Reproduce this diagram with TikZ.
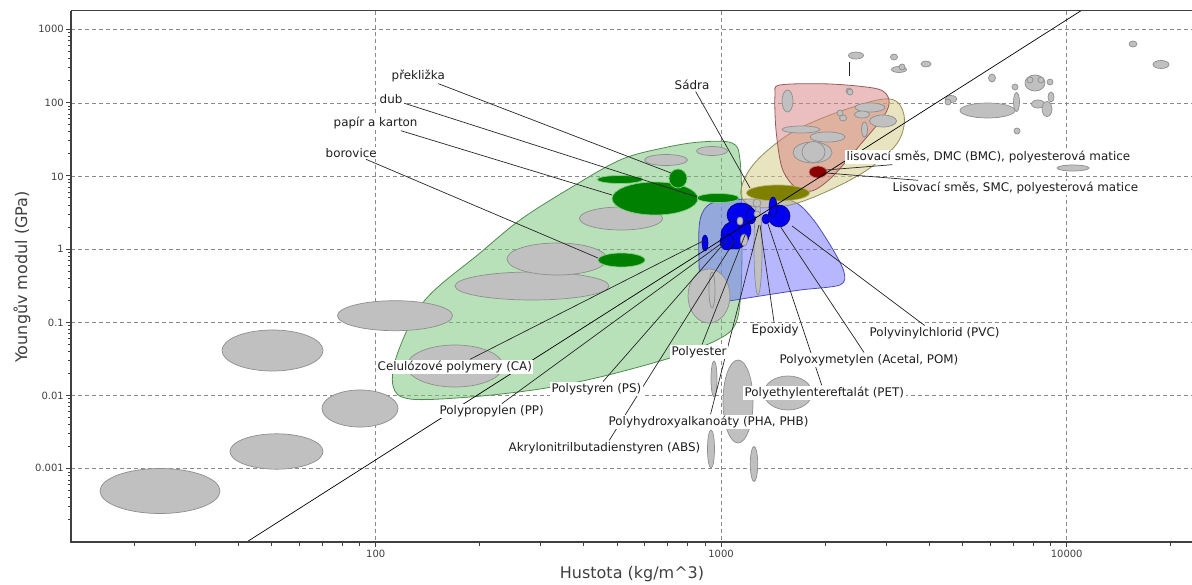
\documentclass[tikz,border=0pt]{standalone}
\usepackage{fontspec}
\setmainfont{DejaVu Sans}
\pgfdeclarelayer{fg}
\pgfsetlayers{main,fg}
\definecolor{axisc}{HTML}{404040}
\definecolor{gridc}{HTML}{8A8A8A}
\definecolor{ellfill}{HTML}{C0C0C0}
\definecolor{elldraw}{HTML}{8E8E8E}
\definecolor{woodc}{HTML}{008000}
\definecolor{woodedge}{HTML}{7FD07F}
\definecolor{polyc}{HTML}{0000EE}
\definecolor{polyedge}{HTML}{00007A}
\definecolor{gypsumc}{HTML}{808000}
\definecolor{smcc}{HTML}{8B0000}
\definecolor{envgreen}{HTML}{74C474}
\definecolor{envblue}{HTML}{7070FF}
\definecolor{envyellow}{HTML}{D0CA80}
\definecolor{envpink}{HTML}{D88080}
\definecolor{txtc}{HTML}{1E1E1E}
\tikzset{
  gridline/.style={gridc, line width=0.7pt, dash pattern=on 4pt off 3pt},
  axisline/.style={axisc, line width=1.1pt},
  tickline/.style={axisc, line width=0.8pt},
  ticklabel/.style={font=\fontsize{10}{12}\selectfont, text=axisc, inner sep=1pt},
  axistitle/.style={font=\fontsize{16}{18}\selectfont, text=axisc},
  grayell/.style={fill=ellfill, draw=elldraw, line width=0.7pt},
  woodell/.style={fill=woodc, draw=woodedge, line width=0.7pt},
  polyell/.style={fill=polyc, draw=polyedge, line width=0.6pt},
  envelope/.style={fill opacity=0.5, line width=0.8pt},
  conn/.style={black!85, line width=0.7pt},
  lbl/.style={fill=white, text=txtc, inner sep=1.5pt, font=\fontsize{11.9}{13}\selectfont},
}
\begin{document}
\begin{tikzpicture}[x=1pt, y=-1pt]
\useasboundingbox (0,0) rectangle (1192,585);
\fill[white] (0,0) rectangle (1192,585);

% grid
\foreach \gy in {29.3,103.3,176.7,249,322.7,395.7,468.3}
  \draw[gridline] (71,\gy) -- (1192,\gy);
\foreach \gx in {375.7,721,1066.7}
  \draw[gridline] (\gx,10.7) -- (\gx,542);

% envelopes
\draw[envelope, fill=envgreen, draw=envgreen!70!black]
  plot[smooth cycle, tension=0.55] coordinates {
  (700,142) (732,143) (740,160) (742,220) (741,290) (735,325) (715,341)
  (670,358) (600,377) (540,389) (470,397) (410,399) (393,386) (398,352)
  (425,300) (480,253) (520,220) (567,190) (620,160) (663,148)};
\draw[envelope, fill=envblue, draw=envblue!70!black]
  plot[smooth cycle, tension=0.5] coordinates {
  (712,203) (750,199) (792,201) (812,218) (832,248) (844,272) (840,285)
  (800,290) (760,296) (720,302) (702,300) (699,260) (700,220)};
\draw[envelope, fill=envyellow, draw=envyellow!70!black]
  plot[smooth cycle, tension=0.6] coordinates {
  (741,195) (748,172) (768,150) (800,128) (850,108) (890,99) (904,115)
  (898,142) (870,168) (830,190) (790,205) (755,207)};
\draw[envelope, fill=envpink, draw=envpink!70!black]
  plot[smooth cycle, tension=0.5] coordinates {
  (780,85) (830,84) (878,89) (889,100) (884,116) (860,145) (832,177)
  (812,191) (795,187) (782,168) (776,130) (775,95)};

% grey material bubbles
\foreach \cx/\cy/\rx/\ry in {
  160/491/60/22.5, 276.5/451.5/46.5/17.7, 272.5/350.5/50.5/20.5,
  360/408.5/38/18.5, 395/315.7/57.5/15, 455/366/48/21, 532/286/77/14,
  557/259/50/16, 621/218.5/41.5/11.5, 666/160/21.5/5.5, 712/151/15.5/4.5,
  709/296/21/27, 712/290/3/18, 714/379/3/18, 738/401.5/15/41.5,
  788/393/24/17, 711/449/3.5/19, 754/464/3.7/17.5, 758/248/4/47,
  757/203/4/4,
  856/55.5/7.5/3.5, 849/91/3/3, 894/57/3.5/3, 899/69.5/7.5/3, 902/67/3/3,
  926/64/5/3, 992/78/3.5/4, 1035/83/10/8, 1030/80/3/3, 1041/80/3/3,
  1050/82/3/3, 1015/87/3/3, 1016.5/102/3/9.5, 1051/97/3/5, 1038/104/6.5/4,
  1047/109/5/7.5, 987.5/110.5/27.5/7.5, 951/99/6/3.5, 948/102/3/3,
  1017/131/3/3, 1133/44/4/3, 1161/64.5/8/4, 1073/168/16/3,
  787.5/101/5.5/11, 850/92/3/3, 870/107.5/15/4.5, 883/121/13.5/6,
  862/114.5/7.5/3.5, 840/113/3/3, 843/118/3.5/3, 864.5/129.5/3/7.5,
  801/129.5/19/3.5, 827.5/137/17.5/5, 812.5/152.5/19.5/10.5,
  813.5/152/11.5/10.5}
  \draw[grayell] (\cx,\cy) ellipse [x radius=\rx, y radius=\ry];

% woods
\draw[woodell] (620,179.5) ellipse [x radius=23, y radius=4];
\draw[woodell] (655,198.5) ellipse [x radius=43, y radius=16.5];
\draw[woodell] (678,178.5) ellipse [x radius=9, y radius=9.5];
\draw[woodell] (718,198) ellipse [x radius=21, y radius=4.5];
\draw[woodell] (621.5,260) ellipse [x radius=23.5, y radius=7];

% gypsum and moulding compounds
\draw[fill=gypsumc, draw=gypsumc!60!white, line width=0.7pt] (778,193) ellipse [x radius=31.5, y radius=8];
\draw[fill=smcc, draw=smcc!50!white, line width=0.7pt] (818,172) ellipse [x radius=9, y radius=6];

% polymers
\foreach \cx/\cy/\rx/\ry in {
  741/215/14/12, 735/235/14/14, 727/242/7/8, 779/216/11/11, 773/207/4/10,
  751/216/5/8, 766/219/4/5, 705/243/3/8, 745/230/6/9}
  \draw[polyell] (\cx,\cy) ellipse [x radius=\rx, y radius=\ry];
\foreach \cx/\cy/\rx/\ry in {740/221/3/4, 744/240/3.5/6, 757/214/3/3}
  \draw[grayell] (\cx,\cy) ellipse [x radius=\rx, y radius=\ry];

% E/rho guide line
\coordinate (diagA) at (246.7,542);
\coordinate (diagB) at (1081,10.7);
\draw[black, line width=0.7pt] (diagA) -- (diagB);

% axes
\draw[axisline] (71,10.7) -- (1192,10.7);
\draw[axisline] (71,10.7) -- (71,542) -- (1192,542);
\foreach \k in {-3,...,3}
  \draw[tickline] (66,{249-73.2*\k}) -- (71,{249-73.2*\k});
\foreach \k in {-4,...,2}
  \foreach \m in {2,...,9}
    \draw[tickline] (68,{249-73.2*(\k+log10(\m))}) -- (71,{249-73.2*(\k+log10(\m))});
\foreach \k in {2,3,4}
  \draw[tickline] ({30.2+345.5*(\k-1)},542) -- ({30.2+345.5*(\k-1)},547);
\foreach \k in {1,2,3}
  \foreach \m in {2,...,9}
    \draw[tickline] ({30.2+345.5*(\k-1+log10(\m))},542) -- ({30.2+345.5*(\k-1+log10(\m))},546);
\draw[tickline] ({30.2+345.5*(3+log10(2))},542) -- ({30.2+345.5*(3+log10(2))},546);

\node[ticklabel, anchor=east] (yt3) at (65,29.3) {1000};
\node[ticklabel, anchor=east] (yt2) at (65,103.3) {100};
\node[ticklabel, anchor=east] (yt1) at (65,176.7) {10};
\node[ticklabel, anchor=east] (yt0) at (65,249) {1};
\node[ticklabel, anchor=east] (ytm1) at (65,322.7) {0.1};
\node[ticklabel, anchor=east] (ytm2) at (65,395.7) {0.01};
\node[ticklabel, anchor=east] (ytm3) at (65,468.3) {0.001};
\node[ticklabel, anchor=north] (xt2) at (375.7,549) {100};
\node[ticklabel, anchor=north] (xt3) at (721,549) {1000};
\node[ticklabel, anchor=north] (xt4) at (1066.7,549) {10000};
\node[axistitle] (xtitle) at (632,574) {Hustota (kg/m\textasciicircum3)};
\node[axistitle, rotate=90] (ytitle) at (22,277) {Youngův modul (GPa)};

% labels
\begin{pgfonlayer}{fg}
\node[lbl, anchor=west] (lPrek) at (390,76) {překližka};
\node[lbl, anchor=west] (lDub) at (378,99) {dub};
\node[lbl, anchor=west] (lPapir) at (332,123) {papír a karton};
\node[lbl, anchor=west] (lBor) at (324,153) {borovice};
\node[lbl, anchor=west] (lSadra) at (673,85) {Sádra};
\node[lbl, anchor=west] (lDMC) at (845,157) {lisovací směs, DMC (BMC), polyesterová matice};
\node[lbl, anchor=west] (lSMC) at (891,188) {Lisovací směs, SMC, polyesterová matice};
\node[lbl, anchor=west] (lCA) at (376,367) {Celulózové polymery (CA)};
\node[lbl, anchor=west] (lPP) at (438,411) {Polypropylen (PP)};
\node[lbl, anchor=west] (lPS) at (550,389) {Polystyren (PS)};
\node[lbl, anchor=west] (lPes) at (670,352) {Polyester};
\node[lbl, anchor=west] (lEp) at (750,330) {Epoxidy};
\node[lbl, anchor=west] (lPVC) at (868,333) {Polyvinylchlorid (PVC)};
\node[lbl, anchor=west] (lPOM) at (778,360) {Polyoxymetylen (Acetal, POM)};
\node[lbl, anchor=west] (lPET) at (743,393) {Polyethylentereftalát (PET)};
\node[lbl, anchor=west] (lPHA) at (607,422) {Polyhydroxyalkanoáty (PHA, PHB)};
\node[lbl, anchor=west] (lABS) at (507,448) {Akrylonitrilbutadienstyren (ABS)};
\end{pgfonlayer}

% leader targets
\coordinate (tPrek) at (671,173);
\coordinate (tDub) at (697,197);
\coordinate (tPapir) at (612,195);
\coordinate (tBor) at (598,258);
\coordinate (tSadra) at (750,188);
\coordinate (tDMC) at (826,170);
\coordinate (tSMC) at (826,173);
\coordinate (tCA) at (705,240);
\coordinate (tPP) at (722,243);
\coordinate (tPS) at (727,240);
\coordinate (tPes) at (745,235);
\coordinate (tEp) at (760,225);
\coordinate (tPVC) at (792,226);
\coordinate (tPOM) at (780,226);
\coordinate (tPET) at (768,224);
\coordinate (tPHA) at (759,225);
\coordinate (tABS) at (735,240);
\coordinate (stubA) at (849,62);
\coordinate (stubB) at (849,76);

\foreach \l in {Prek,Dub,Papir,Bor,Sadra,DMC,SMC,CA,PP,PS,Pes,Ep,PVC,POM,PET,PHA,ABS}
  \draw[conn] (l\l) -- (t\l);
\draw[conn] (stubA) -- (stubB);
\end{tikzpicture}
\end{document}
